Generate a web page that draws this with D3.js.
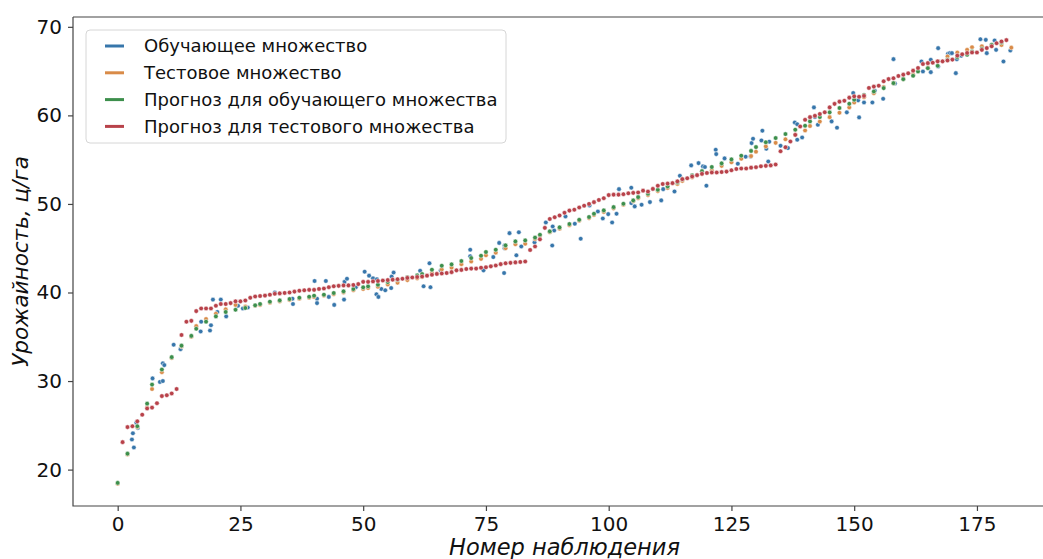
<!DOCTYPE html>
<html>
<head>
<meta charset="utf-8">
<script src="https://cdn.jsdelivr.net/npm/d3@7"></script>
<style>
  body { margin: 0; background: #fff; }
  svg { display: block; font-family: "DejaVu Sans", sans-serif; }
</style>
</head>
<body>
<div id="chart"></div>
<script>
// observed yield, training set [observation, value]
const trainActual = [
  [2.9,23.4],[3.3,22.5],[3.1,24.1],[3.8,25.3],[4.1,24.7],
  [7.1,30.3],[8.6,29.9],[9.2,30.0],[9.2,32.0],[9.5,31.8],[11.4,34.1],[12.8,33.6],
  [16.9,35.6],[17.0,36.7],[18.8,35.7],[19.0,36.3],[19.4,39.2],[21.0,39.2],[20.3,37.8],[22.1,37.3],
  [24.5,38.5],[25.5,38.2],[26.5,38.3],[32.0,40.0],[35.6,39.3],[35.7,38.7],
  [40.1,41.3],[40.6,39.3],[40.6,38.8],[42.4,41.3],[43.0,39.5],[44.1,38.6],
  [46.1,39.2],[46.2,41.2],[46.7,41.55],[48.5,40.6],[50.3,42.35],[51.2,41.9],[52.0,41.6],[52.8,41.5],
  [52.7,39.8],[53.1,39.5],[53.7,40.4],[54.5,40.25],[55.7,40.5],[55.8,41.8],[56.2,42.25],
  [61.6,42.45],[62.3,40.7],[63.5,43.3],[63.7,40.6],[65.8,42.5],[71.8,44.83],[71.8,44.1],[74.5,42.5],
  [76.5,44.0],[77.7,45.6],[78.7,42.2],[78.8,45.3],[78.8,45.0],[79.8,46.7],[81.2,44.2],[81.7,46.8],[82.2,45.2],
  [84.9,45.66],[87.2,47.91],[88.6,47.46],[88.9,47.0],[88.5,45.3],[91.2,48.59],[93.1,47.76],[94.3,46.07],
  [96.1,49.83],[97.8,49.15],[98.8,48.36],[99.9,48.85],[100.7,47.91],[101.6,48.89],[102.1,51.67],
  [104.6,51.83],[104.6,50.1],[105.3,49.72],[106.7,49.91],[108.4,50.21],[110.7,50.4],[111.1,51.67],
  [113.4,51.41],[114.5,53.18],[116.8,54.35],[118.3,54.61],
  [119.2,54.24],[119.6,54.17],[119.9,52.06],[121.8,56.12],[121.9,55.63],[123.6,55.14],[126.3,54.54],
  [127.9,55.33],[128.9,55.37],[129.1,56.87],[129.4,57.36],[131.1,57.17],[131.3,58.27],[132.1,56.23],
  [132.5,54.8],[132.7,57.03],[135.0,56.57],[136.1,56.39],[136.5,56.31],[137.9,59.2],[138.4,59.0],
  [138.4,57.25],[139.4,57.51],[141.8,60.9],[142.0,59.81],[142.6,58.94],[145.4,59.32],[146.5,58.61],
  [148.5,60.34],[149.8,62.52],[150.8,61.7],[151.0,59.77],[152.0,61.46],
  [153.7,61.46],[154.2,62.78],[155.9,61.87],[158.0,66.35],[158.3,63.6],[163.7,66.09],[164.0,64.96],
  [165.6,66.28],[165.6,64.88],[167.1,67.59],[167.1,65.52],[169.1,66.95],[169.5,67.03],[169.9,67.03],
  [170.7,64.77],[170.9,66.35],[171.8,66.73],[175.7,68.6],[176.8,68.53],[177.0,67.03],[178.6,68.46],
  [178.9,67.4],[180.4,66.09],[181.8,67.33]
];

// test set [observation, value]
const testActual = [
  [0,18.4],[2,21.7],[4,24.8],[6,27.0],[7,29.1],[9,31.0],[11,32.6],[13,33.9],[15,35.0],[16,36.2],
  [18,37.0],[20,37.6],[22,38.1],[24,38.6],[26,38.4],[28,38.5],[29,38.6],[31,38.85],[33,39.0],[35,39.15],
  [37,39.3],[39,39.4],[40,39.5],[42,39.65],[44,39.8],[46,40.0],[48,40.25],[50,40.4],[51,40.5],[53,40.65],
  [55,40.9],[57,41.1],[59,41.4],[61,41.6],[62,41.75],[64,42.2],[66,42.6],[68,42.8],[70,43.2],[72,43.5],
  [74,43.8],[75,44.2],[77,44.5],[79,45.0],[81,45.45],[83,45.5],[85,46.05],[86,46.4],[88,46.8],[90,47.2],
  [92,47.6],[94,48.1],[96,48.4],[97,48.75],[99,49.1],[101,49.5],[103,49.9],[105,50.3],[106,50.65],[108,51.0],
  [110,51.45],[112,51.8],[114,52.25],[115,52.6],[117,53.0],[119,53.4],[121,53.8],[123,54.3],[125,54.7],[127,55.1],
  [129,55.4],[130,55.9],[132,56.5],[134,56.9],[136,57.3],[138,57.8],[140,58.3],[141,58.8],[143,59.3],[145,59.8],
  [147,60.3],[149,60.9],[150,61.45],[152,62.05],[154,62.5],[156,63.2],[158,63.64],[160,64.1],[162,64.6],[163,65.0],
  [165,65.4],[167,66.1],[169,66.65],[171,67.1],[173,67.4],[174,67.7],[176,67.8],[178,67.85],[180,67.95],[182,67.65]
];

// prediction for training set [observation, value]
const trainPredicted = [
  [0,18.5],[2,21.8],[4,24.9],[6,27.45],[7,29.6],[9,31.3],[11,32.7],[13,34.0],[15,35.1],[16,35.9],
  [18,36.7],[20,37.3],[22,37.8],[24,38.05],[26,38.25],[28,38.55],[29,38.7],[31,38.96],[33,39.11],[35,39.26],
  [37,39.41],[39,39.52],[40,39.64],[42,39.75],[44,39.94],[46,40.13],[48,40.39],[50,40.58],[51,40.69],[53,40.88],
  [55,41.18],[57,41.44],[59,41.71],[61,41.93],[62,42.08],[64,42.57],[66,43.02],[68,43.17],[70,43.55],[72,43.89],
  [74,44.15],[75,44.57],[77,44.83],[79,45.32],[81,45.77],[83,45.88],[85,46.2],[86,46.52],[88,46.9],[90,47.35],
  [92,47.73],[94,48.21],[96,48.52],[97,48.89],[99,49.27],[101,49.64],[103,50.02],[105,50.4],[106,50.77],[108,51.15],
  [110,51.6],[112,51.98],[114,52.43],[115,52.8],[117,53.22],[119,53.7],[121,54.17],[123,54.58],[125,55.03],[127,55.45],
  [129,55.99],[130,56.42],[132,56.97],[134,57.44],[136,57.89],[138,58.38],[140,58.83],[141,59.32],[143,59.81],[145,60.34],
  [147,60.83],[149,61.31],[150,61.77],[152,62.3],[154,62.7],[156,63.08],[158,63.64],[160,64.09],[162,64.47],[163,64.96],
  [165,65.33],[167,65.6],[169,66.28],[171,66.58],[173,66.84],[174,67.22],[176,67.52],[178,67.97],[180,68.23]
];

// prediction for test set, observations 1, 2, 3, ...
const testPredicted = [
  23.1,24.8,24.9,25.45,26.2,26.9,27.0,27.5,28.3,28.4,28.6,29.1,35.2,36.7,36.8,37.9,38.2,38.2,38.2,38.5,
  38.7,38.7,38.8,39.0,39.0,39.1,39.4,39.55,39.6,39.65,39.75,39.85,39.9,39.95,40.0,40.1,40.2,40.25,40.3,40.3,
  40.4,40.45,40.6,40.7,40.75,40.8,40.8,40.85,40.95,41.2,41.2,41.25,41.3,41.35,41.4,41.45,41.5,41.55,41.65,41.7,
  41.75,41.8,41.9,42.0,42.1,42.15,42.2,42.3,42.5,42.55,42.65,42.7,42.7,42.8,42.85,42.95,43.05,43.2,43.3,43.35,
  43.4,43.45,43.5,44.8,45.2,46.0,47.3,48.3,48.5,48.7,49.0,49.25,49.35,49.6,49.8,50.0,50.2,50.45,50.65,51.0,
  51.05,51.05,51.1,51.2,51.25,51.3,51.5,51.4,51.7,52.05,52.25,52.3,52.35,52.55,52.8,52.9,53.1,53.25,53.4,53.5,
  53.55,53.55,53.6,53.65,53.8,53.95,54.0,54.0,54.1,54.15,54.25,54.3,54.35,54.45,55.95,56.4,57.05,57.8,58.75,59.5,
  59.8,59.95,60.15,60.35,60.9,61.3,61.55,61.65,62.0,62.15,62.1,62.2,63.1,63.25,63.35,63.85,64.1,64.2,64.45,64.6,
  64.75,65.05,65.35,65.8,65.9,65.95,66.1,66.1,66.2,66.3,66.75,66.9,67.05,67.1,67.1,67.4,67.6,67.8,68.15,68.35,
  68.5
];

const seriesNames = [
  'Обучающее множество',
  'Тестовое множество',
  'Прогноз для обучающего множества',
  'Прогноз для тестового множества'
];
const seriesColors = ['#3776ab', '#d98b48', '#3d8f4c', '#b8424a'];
const xTicks = [0, 25, 50, 75, 100, 125, 150, 175];
const yTicks = [20, 30, 40, 50, 60, 70];

const width = 1043;
const height = 559;
const margin = { left: 73, top: 17, right: 1056, bottom: 506 };

const series = [
  trainActual,
  testActual,
  trainPredicted,
  testPredicted.map((v, i) => [i + 1, v])
];

const allPts = series.flat();
const xExt = d3.extent(allPts, d => d[0]);
const yExt = d3.extent(allPts, d => d[1]);
const xPad = (xExt[1] - xExt[0]) * 0.05;
const yPad = (yExt[1] - yExt[0]) * 0.05;

const x = d3.scaleLinear()
  .domain([xExt[0] - xPad, xExt[1] + xPad])
  .range([margin.left, margin.right]);
const y = d3.scaleLinear()
  .domain([yExt[0] - yPad, yExt[1] + yPad])
  .range([margin.bottom, margin.top]);

const svg = d3.select('#chart')
  .append('svg')
  .attr('width', width)
  .attr('height', height);

svg.append('rect').attr('width', width).attr('height', height).attr('fill', '#fff');

/* points, drawn in legend order */
series.forEach((pts, k) => {
  svg.append('g')
    .selectAll('circle')
    .data(pts)
    .enter()
    .append('circle')
    .attr('cx', d => x(d[0]))
    .attr('cy', d => y(d[1]))
    .attr('r', 2.3)
    .attr('fill', seriesColors[k])
    .attr('stroke', '#fff')
    .attr('stroke-width', 0.5);
});

/* axes */
const xAxis = svg.append('g')
  .attr('transform', `translate(0,${margin.bottom})`)
  .call(d3.axisBottom(x).tickValues(xTicks).tickSize(5).tickPadding(6));
const yAxis = svg.append('g')
  .attr('transform', `translate(${margin.left},0)`)
  .call(d3.axisLeft(y).tickValues(yTicks).tickSize(5).tickPadding(6));

[xAxis, yAxis].forEach(g => {
  g.select('.domain').remove();
  g.selectAll('line').attr('stroke', '#444').attr('stroke-width', 1.2);
  g.selectAll('text')
    .attr('font-size', 20)
    .attr('font-family', '"DejaVu Sans", sans-serif')
    .attr('fill', '#111');
});

/* spines */
const spine = svg.append('g').attr('stroke', '#444').attr('stroke-width', 1.2).attr('fill', 'none');
spine.append('path').attr('d', `M${margin.left},${margin.top}V${margin.bottom}H${margin.right}`);
spine.append('path').attr('d', `M${margin.left},${margin.top}H${margin.right}V${margin.bottom}`);

/* axis labels */
svg.append('text')
  .attr('x', (margin.left + margin.right) / 2)
  .attr('y', 555)
  .attr('text-anchor', 'middle')
  .attr('font-size', 22.5)
  .attr('font-style', 'italic')
  .attr('fill', '#111')
  .text('Номер наблюдения');

svg.append('text')
  .attr('transform', `translate(28,${(margin.top + margin.bottom) / 2}) rotate(-90)`)
  .attr('text-anchor', 'middle')
  .attr('font-size', 21.5)
  .attr('font-style', 'italic')
  .attr('fill', '#111')
  .text('Урожайность, ц/га');

/* legend */
const legend = svg.append('g').attr('transform', 'translate(86,30)');
legend.append('rect')
  .attr('width', 420)
  .attr('height', 113)
  .attr('rx', 4)
  .attr('fill', '#fff')
  .attr('fill-opacity', 0.8)
  .attr('stroke', '#d6d6d6');

const rows = legend.selectAll('g.row')
  .data(seriesNames)
  .enter()
  .append('g')
  .attr('class', 'row')
  .attr('transform', (_d, i) => `translate(0,${16 + i * 26.8})`);

rows.append('line')
  .attr('x1', 19).attr('x2', 38)
  .attr('stroke', (_d, i) => seriesColors[i])
  .attr('stroke-width', 3);

rows.append('text')
  .attr('x', 58)
  .attr('dy', '0.35em')
  .attr('font-size', 18)
  .attr('fill', '#111')
  .text(d => d);
</script>
</body>
</html>
